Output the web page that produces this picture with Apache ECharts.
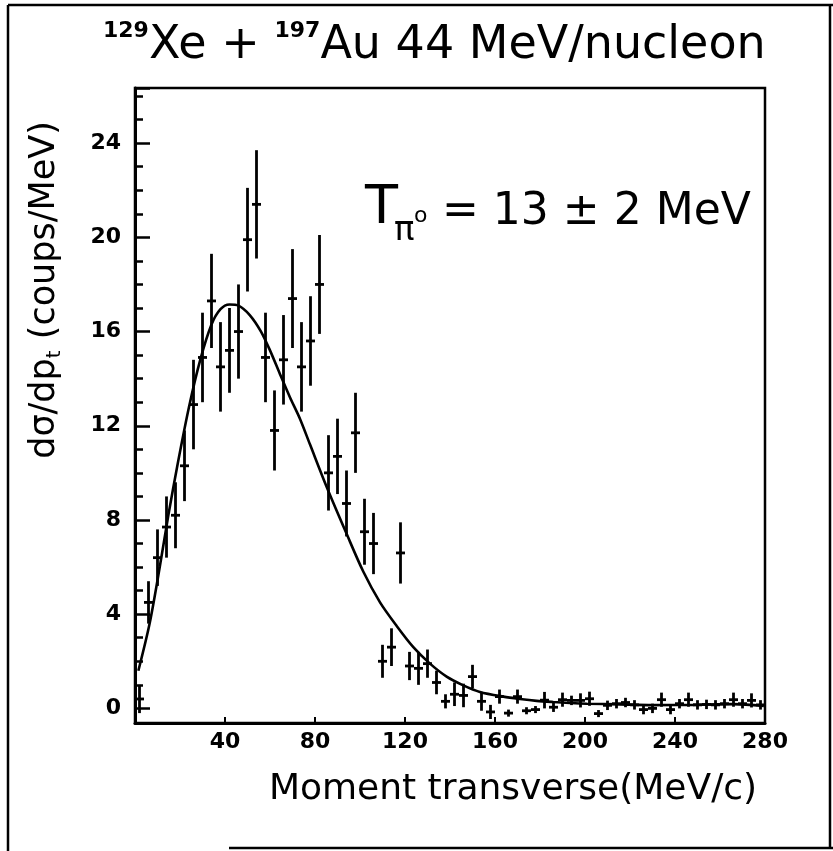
<!DOCTYPE html>
<html>
<head>
<meta charset="utf-8">
<script src="https://cdn.jsdelivr.net/npm/echarts@6/dist/echarts.min.js"></script>
<style>
html, body { margin: 0; padding: 0; background: #fff; }
#main { width: 833px; height: 851px; }
</style>
</head>
<body>
<div id="main"></div>
<script>
// bins of transverse momentum (MeV/c)
var pt = [2, 6, 10, 14, 18, 22, 26, 30, 34, 38, 42, 46, 50, 54, 58, 62, 66, 70, 74, 78,
    82, 86, 90, 94, 98, 102, 106, 110, 114, 118, 122, 126, 130, 134, 138, 142, 146, 150, 154, 158,
    162, 166, 170, 174, 178, 182, 186, 190, 194, 198, 202, 206, 210, 214, 218, 222, 226, 230, 234, 238,
    242, 246, 250, 254, 258, 262, 266, 270, 274, 278];
// d sigma / d pt (coups/MeV)
var sigma = [0.4, 4.5, 6.4, 7.7, 8.2, 10.3, 12.9, 14.9, 17.3, 14.5, 15.2, 16.0, 19.9, 21.4, 14.9, 11.8, 14.8, 17.4, 14.5, 15.6,
    18.0, 10.0, 10.7, 8.7, 11.7, 7.5, 7.0, 2.0, 2.6, 6.6, 1.8, 1.7, 1.9, 1.1, 0.3, 0.6, 0.55, 1.35, 0.3, -0.15,
    0.5, -0.2, 0.5, -0.1, -0.05, 0.35, 0.05, 0.37, 0.34, 0.34, 0.41, -0.22, 0.13, 0.2, 0.25, 0.15, -0.05, 0.0, 0.37, -0.05,
    0.2, 0.37, 0.15, 0.17, 0.15, 0.2, 0.37, 0.2, 0.34, 0.15];
var sigmaErr = [0.6, 0.9, 1.2, 1.3, 1.4, 1.5, 1.9, 1.9, 2.0, 1.9, 1.8, 2.0, 2.2, 2.3, 1.9, 1.7, 1.9, 2.1, 1.9, 1.9,
    2.1, 1.6, 1.6, 1.4, 1.7, 1.4, 1.3, 0.7, 0.8, 1.3, 0.6, 0.7, 0.6, 0.5, 0.3, 0.5, 0.5, 0.5, 0.4, 0.3,
    0.3, 0.15, 0.3, 0.15, 0.15, 0.35, 0.2, 0.3, 0.2, 0.3, 0.3, 0.15, 0.2, 0.2, 0.2, 0.2, 0.2, 0.2, 0.3, 0.2,
    0.2, 0.3, 0.2, 0.2, 0.2, 0.2, 0.3, 0.2, 0.3, 0.2];

// fitted curve
var fitPt = [1.5, 6.5, 11, 15, 19, 24, 29, 34, 38, 42, 46, 51, 56, 60, 64.4, 68.9, 73.3, 77.8,
    85.2, 94.1, 101.5, 108.9, 116.3, 123.7, 131.1, 138.5, 145.9, 153.3, 163.7, 171.1, 178.5, 185.9, 193.3,
    200.8, 215.6, 230, 248, 266, 279.5];
var fitVal = [1.6, 3.6, 6.0, 8.3, 10.4, 12.8, 14.8, 16.3, 16.95, 17.15, 17.1, 16.7, 16.0, 15.2, 14.2, 13.2, 12.3, 11.2,
    9.4, 7.4, 5.8, 4.5, 3.5, 2.6, 1.9, 1.35, 0.98, 0.7, 0.5, 0.4, 0.32, 0.27, 0.23,
    0.2, 0.17, 0.14, 0.15, 0.18, 0.1];

var xTickLabels = [40, 80, 120, 160, 200, 240, 280];
var yTickLabels = [0, 4, 8, 12, 16, 20, 24];

var FONT = 'DejaVu Sans';
var chart = echarts.init(document.getElementById('main'));

function renderBar(params, api) {
    var x = api.value(0), y = api.value(1), e = api.value(2);
    var top = api.coord([x, y + e]);
    var bot = api.coord([x, y - e]);
    var mid = api.coord([x, y]);
    return {
        type: 'group',
        children: [
            {type: 'line', shape: {x1: top[0], y1: top[1], x2: bot[0], y2: bot[1]},
                style: {stroke: '#000', lineWidth: 2.8}},
            {type: 'line', shape: {x1: mid[0] - 4.5, y1: mid[1], x2: mid[0] + 4.5, y2: mid[1]},
                style: {stroke: '#000', lineWidth: 2.8}}
        ]
    };
}

var barData = pt.map(function (p, i) { return [p, sigma[i], sigmaErr[i]]; });
var fitData = fitPt.map(function (p, i) { return [p, fitVal[i]]; });

var option = {
    backgroundColor: '#fff',
    animation: false,
    grid: {
        left: 135, right: 68, top: 88, bottom: 128,
        show: true, borderColor: '#000', borderWidth: 2.5, backgroundColor: 'transparent'
    },
    xAxis: {
        type: 'value', min: 0, max: 280, interval: 40,
        axisLine: {onZero: false, lineStyle: {color: '#000', width: 3}},
        axisTick: {inside: true, length: 6, lineStyle: {color: '#000', width: 2}},
        splitLine: {show: false},
        axisLabel: {
            color: '#000', fontFamily: FONT, fontSize: 22, fontWeight: 'bold', margin: 8,
            formatter: function (v) { return xTickLabels.indexOf(v) >= 0 ? String(v) : ''; }
        }
    },
    yAxis: [{
        type: 'value', min: -0.62, max: 26.34, minInterval: 1, maxInterval: 1,
        axisLine: {show: true, lineStyle: {color: '#000', width: 3}},
        axisTick: {inside: true, length: 8, lineStyle: {color: '#000', width: 2.5}},
        axisLabel: {show: false},
        splitLine: {show: false}
    }, {
        type: 'value', min: -0.62, max: 26.34, minInterval: 4, maxInterval: 4, position: 'left',
        axisLine: {show: false},
        axisTick: {show: true, inside: true, length: 15, lineStyle: {color: '#000', width: 2.5}},
        splitLine: {show: false},
        axisLabel: {
            color: '#000', fontFamily: FONT, fontSize: 22, fontWeight: 'bold', margin: 14,
            formatter: function (v) { return yTickLabels.indexOf(v) >= 0 ? String(v) : ''; }
        }
    }],
    series: [{
        type: 'custom',
        renderItem: renderBar,
        data: barData,
        encode: {x: 0, y: 1},
        clip: false,
        z: 3
    }, {
        type: 'line',
        data: fitData,
        smooth: 0.3,
        showSymbol: false,
        symbol: 'none',
        lineStyle: {color: '#000', width: 2.6},
        z: 4
    }],
    graphic: [
        // page frame
        {type: 'line', shape: {x1: 8, y1: 5, x2: 833, y2: 5}, style: {stroke: '#000', lineWidth: 2.5}},
        {type: 'line', shape: {x1: 8, y1: 5, x2: 8, y2: 851}, style: {stroke: '#000', lineWidth: 2.5}},
        {type: 'line', shape: {x1: 830, y1: 5, x2: 830, y2: 848}, style: {stroke: '#000', lineWidth: 2.5}},
        {type: 'line', shape: {x1: 229, y1: 848, x2: 833, y2: 848}, style: {stroke: '#000', lineWidth: 2.5}},
        // title
        {
            type: 'text', x: 103, y: 20,
            style: {
                text: '{s|129}{n|Xe + }{s|197}{n|Au 44 MeV/nucleon}',
                rich: {
                    n: {fontFamily: FONT, fontSize: 46, lineHeight: 52, fill: '#000'},
                    s: {fontFamily: FONT, fontSize: 22, fontWeight: 'bold', lineHeight: 52, verticalAlign: 'top', fill: '#000'}
                }
            }
        },
        // temperature annotation
        {type: 'text', x: 365, y: 182, style: {text: 'T', fontFamily: FONT, fontSize: 54, fill: '#000'}},
        {type: 'text', x: 394, y: 214, style: {text: 'π', fontFamily: FONT, fontSize: 34, fill: '#000'}},
        {type: 'text', x: 414, y: 205, style: {text: 'o', fontFamily: FONT, fontSize: 22, fill: '#000'}},
        {type: 'text', x: 442, y: 191, style: {text: '= 13 ± 2 MeV', fontFamily: FONT, fontSize: 44, fill: '#000'}},
        // axis names
        {
            type: 'text', x: 45, y: 290, rotation: Math.PI / 2,
            style: {
                text: '{a|dσ/dp}{b|t}{a| (coups/MeV)}',
                align: 'center', verticalAlign: 'middle',
                rich: {
                    a: {fontFamily: FONT, fontSize: 35, lineHeight: 40, fill: '#000'},
                    b: {fontFamily: FONT, fontSize: 20, lineHeight: 40, verticalAlign: 'bottom', fill: '#000'}
                }
            }
        },
        {
            type: 'text', x: 513, y: 790,
            style: {
                text: 'Moment transverse(MeV/c)', fontFamily: FONT, fontSize: 36, fill: '#000',
                align: 'center', verticalAlign: 'middle'
            }
        }
    ]
};

chart.setOption(option);
</script>
</body>
</html>
